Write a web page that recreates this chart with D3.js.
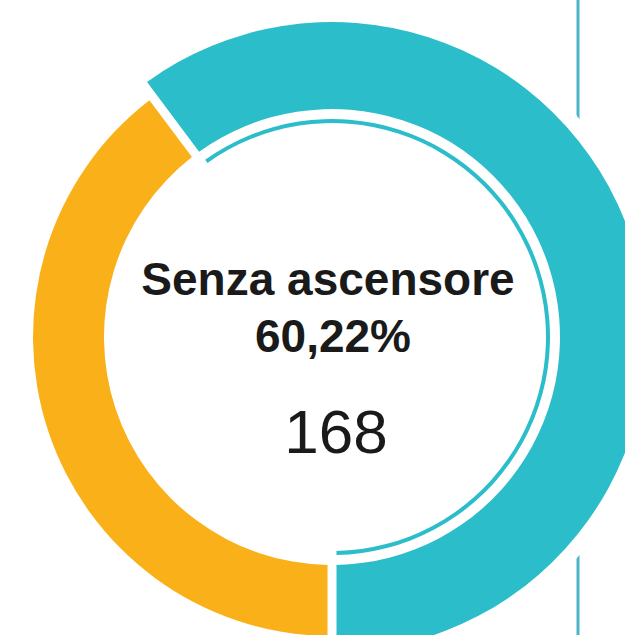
<!DOCTYPE html>
<html>
<head>
<meta charset="utf-8">
<script src="https://cdn.jsdelivr.net/npm/d3@7"></script>
<style>
    body { margin: 0; background: #fff; }
    svg { display: block; }
    .label-text { font-family: "Liberation Sans", Arial, sans-serif; fill: #1a1a1a; }
</style>
</head>
<body>
<script>
var width = 625,
    height = 635;

// data
var categories = ["Con ascensore", "Senza ascensore"];
var counts = [111, 168];
var colors = ["#fab018", "#2bbdca"];
var highlighted = "Senza ascensore";

var cx = 332, cy = 337;
var innerRadius = 228,
    outerRadius = 299,
    highlightOuter = 315,
    ringRadius = 216;

var svg = d3.select("body").append("svg")
    .attr("width", width)
    .attr("height", height);

var total = d3.sum(counts);
var data = categories.map(function(c, i) {
    return {category: c, value: counts[i], color: colors[i]};
});

// divider line, cut out around the donut
svg.append("line")
    .attr("x1", 578)
    .attr("x2", 578)
    .attr("y1", 0)
    .attr("y2", height)
    .attr("stroke", "#4bb5c5")
    .attr("stroke-width", 3);

var g = svg.append("g")
    .attr("transform", "translate(" + cx + "," + cy + ")");

g.append("circle")
    .attr("r", highlightOuter + 15)
    .attr("fill", "#fff");

var pie = d3.pie()
    .sort(null)
    .value(function(d) { return d.value; })
    .startAngle(Math.PI)
    .endAngle(3 * Math.PI);

var arcs = pie(data);

var arc = d3.arc()
    .innerRadius(innerRadius)
    .outerRadius(function(d) {
        return d.data.category === highlighted ? highlightOuter : outerRadius;
    })
    .padAngle(0.03)
    .padRadius(300);

g.selectAll(".slice")
    .data(arcs)
    .enter()
    .append("path")
    .attr("class", "slice")
    .attr("d", arc)
    .attr("fill", function(d) { return d.data.color; });

// thin ring inside the highlighted slice
var ring = d3.arc()
    .innerRadius(ringRadius - 2)
    .outerRadius(ringRadius + 2)
    .padAngle(0.03)
    .padRadius(300);

g.selectAll(".ring")
    .data(arcs.filter(function(d) { return d.data.category === highlighted; }))
    .enter()
    .append("path")
    .attr("class", "ring")
    .attr("d", ring)
    .attr("fill", function(d) { return d.data.color; });

var sel = data.filter(function(d) { return d.category === highlighted; })[0];
var pct = (sel.value / total * 100).toFixed(2).replace(".", ",") + "%";

g.append("text")
    .attr("class", "label-text")
    .attr("text-anchor", "middle")
    .attr("x", -4)
    .attr("y", -42)
    .style("font-size", "46px")
    .style("font-weight", "bold")
    .text(sel.category);

g.append("text")
    .attr("class", "label-text")
    .attr("text-anchor", "middle")
    .attr("x", 1)
    .attr("y", 15)
    .style("font-size", "46px")
    .style("font-weight", "bold")
    .text(pct);

g.append("text")
    .attr("class", "label-text")
    .attr("text-anchor", "middle")
    .attr("x", 4)
    .attr("y", 116)
    .style("font-size", "62px")
    .text(sel.value);
</script>
</body>
</html>
